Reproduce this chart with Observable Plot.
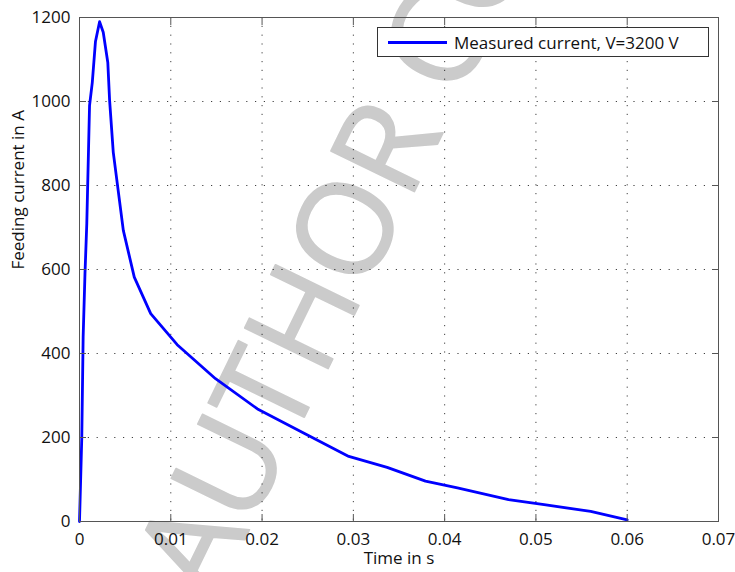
<!DOCTYPE html>
<html><head><meta charset="utf-8">
<script src="https://cdn.jsdelivr.net/npm/d3@7"></script>
<script src="https://cdn.jsdelivr.net/npm/@observablehq/plot@0.6"></script>
<style>
html,body{margin:0;padding:0;background:#fff;overflow:hidden;}
#wrap{position:relative;width:735px;height:572px;overflow:hidden;}
#legend{position:absolute;left:377px;top:27px;width:332px;height:30px;border:1px solid #333;background:#fff;box-sizing:border-box;
  font-family:"Open Sans",sans-serif;font-size:17px;color:#111;display:flex;align-items:center;padding-left:10px;white-space:nowrap;}
#legend .sw{display:inline-block;width:59px;height:3px;background:#0000ff;margin-right:7px;}
</style></head>
<body>
<div id="wrap"></div>
<script>
// Data
const timeS    = [0, 0.00025, 0.0004, 0.0006, 0.0008, 0.0011, 0.0014, 0.00175, 0.0022, 0.0026, 0.0031, 0.0033, 0.0037, 0.0048, 0.0060, 0.0078, 0.0107, 0.0149, 0.0195, 0.0246, 0.0295, 0.0337, 0.0379, 0.0414, 0.0470, 0.0509, 0.0560, 0.0600];
const currentA = [0, 200, 440, 590, 710, 990, 1045, 1143, 1190, 1165, 1093, 1002, 879, 693, 582, 495, 421, 340, 268, 210, 155, 129, 96, 80, 52, 40, 24, 4];
const xTicks = [0, 0.01, 0.02, 0.03, 0.04, 0.05, 0.06, 0.07];
const xTickLabels = ["0", "0.01", "0.02", "0.03", "0.04", "0.05", "0.06", "0.07"];
const yTicks = [0, 200, 400, 600, 800, 1000, 1200];
const yTickLabels = ["0", "200", "400", "600", "800", "1000", "1200"];
const xLabel = "Time in s";
const yLabel = "Feeding current in A";
const seriesName = "Measured current, V=3200 V";
const watermark = ["AUTHOR COPY"];

const data = timeS.map((t, i) => ({t, a: currentA[i]}));
const axisColor = "#555";
const font = "Open Sans";

const chart = Plot.plot({
  width: 735, height: 572,
  marginLeft: 79, marginRight: 17, marginTop: 17, marginBottom: 51,
  style: {fontFamily: font, fontSize: "17px", color: "#111", background: "#fff"},
  x: {domain: [0, 0.07]},
  y: {domain: [0, 1200]},
  marks: [
    Plot.text(watermark, {text: d => d, frameAnchor: "bottom-left", dx: 134, dy: 82, rotate: -64,
      textAnchor: "start", lineAnchor: "bottom", fontSize: 130, fontFamily: font,
      fill: "#cbcbcb", stroke: "#cbcbcb", strokeWidth: 1.6}),
    Plot.gridX(xTicks, {stroke: "#000", strokeOpacity: 0.75, strokeDasharray: "1.2,7.6"}),
    Plot.gridY(yTicks, {stroke: "#000", strokeOpacity: 0.75, strokeDasharray: "1.2,7.6"}),
    Plot.line(data, {x: "t", y: "a", stroke: "#0000ff", strokeWidth: 2.8, strokeLinejoin: "round"}),
    Plot.frame({stroke: axisColor, strokeWidth: 1}),
    // inward ticks on all four sides
    Plot.axisX(xTicks, {anchor: "bottom", tickSize: -7, stroke: axisColor, text: null, label: null}),
    Plot.axisX(xTicks, {anchor: "top", tickSize: -7, stroke: axisColor, text: null, label: null}),
    Plot.axisY(yTicks, {anchor: "left", tickSize: -7, stroke: axisColor, text: null, label: null}),
    Plot.axisY(yTicks, {anchor: "right", tickSize: -7, stroke: axisColor, text: null, label: null}),
    // tick labels
    Plot.axisX(xTicks, {anchor: "bottom", tickSize: 0, tickPadding: 11, tickFormat: (d) => xTickLabels[xTicks.indexOf(d)], label: null, fontSize: 17, fill: "#111"}),
    Plot.axisY(yTicks, {anchor: "left", tickSize: 0, tickPadding: 9, tickFormat: (d) => yTickLabels[yTicks.indexOf(d)], label: null, fontSize: 17, fill: "#111"}),
    // axis titles
    Plot.text([xLabel], {text: d => d, frameAnchor: "bottom", dy: 42, fontSize: 17, fill: "#111"}),
    Plot.text([yLabel], {text: d => d, frameAnchor: "left", dx: -61, rotate: -90, fontSize: 17, fill: "#111"})
  ]
});
const wrap = document.getElementById("wrap");
wrap.appendChild(chart);
const leg = document.createElement("div");
leg.id = "legend";
leg.innerHTML = '<span class="sw"></span><span></span>';
leg.lastChild.textContent = seriesName;
wrap.appendChild(leg);
</script>
</body></html>
